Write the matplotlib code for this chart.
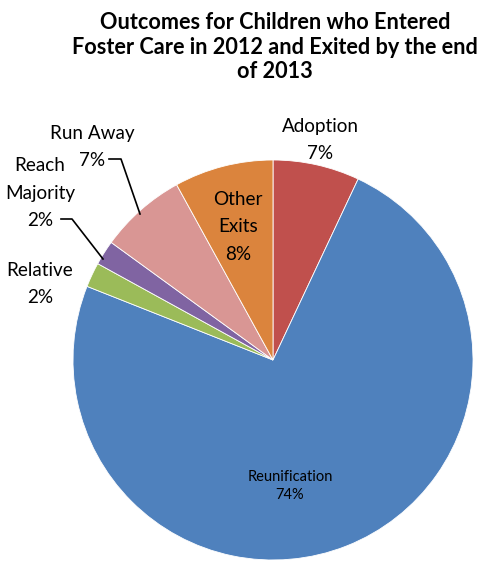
import matplotlib
matplotlib.use('Agg')
from matplotlib import pyplot as plt

labels = ['Adoption', 'Reunification', 'Relative', 'Reach Majority', 'Run Away', 'Other Exits']
values = [7, 74, 2, 2, 7, 8]
colors = ['#C0504D', '#4F81BD', '#9BBB59', '#8064A2', '#D99694', '#DB843D']

plt.rcParams['font.family'] = ['Lato', 'DejaVu Sans']

fig = plt.figure(figsize=(4.8, 5.63), dpi=100)
ax = fig.add_axes([73 / 480, 3 / 563, 400 / 480, 400 / 563])
ax.pie(values, colors=colors, startangle=90, counterclock=False,
       wedgeprops={'linewidth': 0.6, 'edgecolor': 'white'})
ax.set_xlim(-1, 1)
ax.set_ylim(-1, 1)
ax.set_axis_off()

fig.text(275 / 480, 1 - 47 / 563,
         'Outcomes for Children who Entered\nFoster Care in 2012 and Exited by the end\nof 2013',
         ha='center', va='center', fontsize=15.6, fontweight='bold', linespacing=1.2)


# label positions in pixels of the picture -> data units (radius 1)
def px(x, y):
    return (x - 273) / 200, (363 - y) / 200


fs = 13.6
ls = 1.74
ax.text(*px(320, 143), 'Adoption\n7%', ha='center', va='center', fontsize=fs, linespacing=ls, clip_on=False)
ax.text(*px(238, 230), 'Other\nExits\n8%', ha='center', va='center', fontsize=fs, linespacing=ls, clip_on=False)
ax.text(*px(92, 150), 'Run Away\n7%', ha='center', va='center', fontsize=fs, linespacing=ls, clip_on=False)
ax.text(*px(40, 196), 'Reach\nMajority\n2%', ha='center', va='center', fontsize=fs, linespacing=ls, clip_on=False)
ax.text(*px(40, 287), 'Relative\n2%', ha='center', va='center', fontsize=fs, linespacing=ls, clip_on=False)
ax.text(*px(290, 489), 'Reunification\n74%', ha='center', va='center', fontsize=10.5, linespacing=1.4)

# leader lines
for pts in ([(109, 162), (121, 162), (140, 217)], [(61, 222), (72, 222), (103, 262)]):
    xs, ys = zip(*[px(a, b) for a, b in pts])
    ax.plot(xs, ys, color='black', linewidth=1.2, clip_on=False)

fig.savefig('out.png', dpi=100)
